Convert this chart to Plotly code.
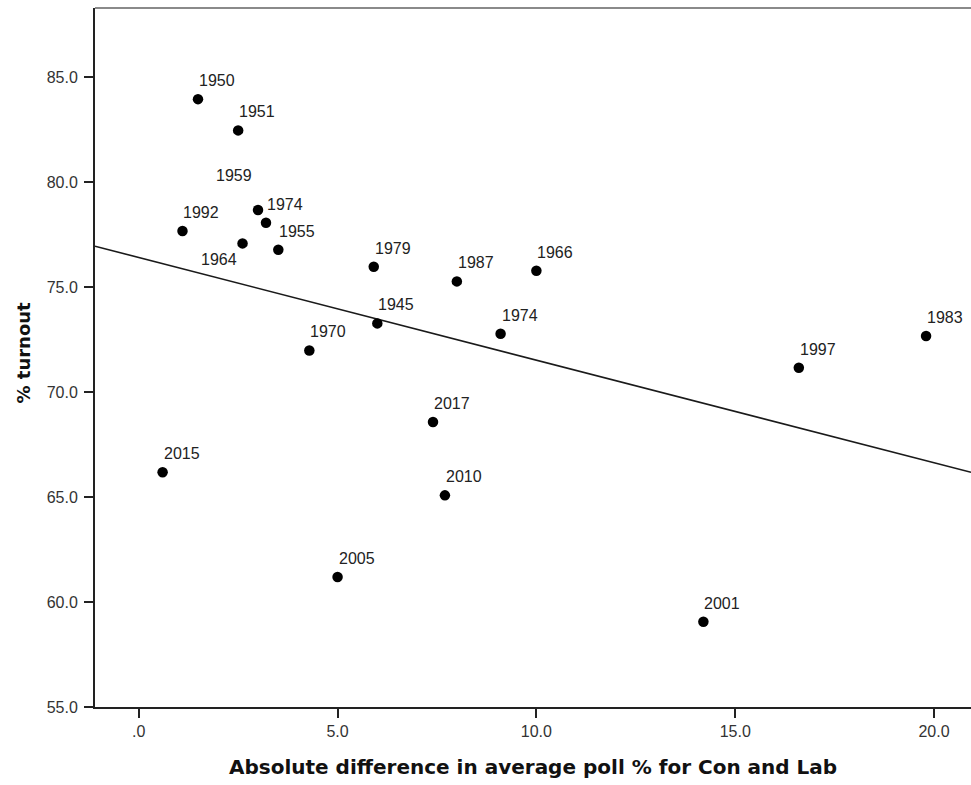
import numpy as np
import plotly.graph_objects as go

# ---- data ----
years = ["1945", "1950", "1951", "1955", "1959", "1964", "1966", "1970", "1974", "1974",
         "1979", "1983", "1987", "1992", "1997", "2001", "2005", "2010", "2015", "2017"]
poll_diff = [6.0, 1.49, 2.50, 3.51, 3.0, 2.61, 10.0, 4.29, 3.20, 9.1,
             5.91, 19.8, 8.0, 1.10, 16.6, 14.2, 5.0, 7.70, 0.60, 7.40]
turnout = [73.27, 83.95, 82.46, 76.78, 78.67, 77.08, 75.78, 71.98, 78.06, 72.78,
           75.97, 72.67, 75.27, 77.67, 71.16, 59.06, 61.19, 65.08, 66.18, 68.57]
x_ticks = [0, 5, 10, 15, 20]
x_tick_text = [".0", "5.0", "10.0", "15.0", "20.0"]
y_ticks = [55, 60, 65, 70, 75, 80, 85]
y_tick_text = ["55.0", "60.0", "65.0", "70.0", "75.0", "80.0", "85.0"]
x_title = "Absolute difference in average poll % for Con and Lab"
y_title = "% turnout"

# ---- layout constants ----
XR = [-1.10, 20.93]
YR = [55, 88.29]
# label offsets (pixels) for labels not placed at the default spot
label_offsets = {4: (-44, 34), 5: (-44, -16)}
default_offset = (-1, 18.5)

slope, intercept = np.polyfit(poll_diff, turnout, 1)
line_x = np.array(XR)
line_y = slope * line_x + intercept

fig = go.Figure()
fig.add_trace(go.Scatter(x=line_x, y=line_y, mode="lines",
                         line=dict(color="#1a1a1a", width=1.6),
                         hoverinfo="skip", showlegend=False, cliponaxis=True))
fig.add_trace(go.Scatter(x=poll_diff, y=turnout, mode="markers",
                         marker=dict(color="black", size=10.5),
                         showlegend=False, cliponaxis=False))

annotations = []
for i, (xv, yv, lab) in enumerate(zip(poll_diff, turnout, years)):
    dx, dy = label_offsets.get(i, default_offset)
    annotations.append(dict(x=xv, y=yv, xref="x", yref="y", text=lab, showarrow=False,
                            xanchor="left", yanchor="middle", xshift=dx, yshift=dy,
                            font=dict(family="Liberation Sans, Arial", size=16, color="#222")))

annotations.append(dict(x=0.5, y=0, xref="paper", yref="paper", text=x_title, showarrow=False,
                        xanchor="center", yanchor="top", yshift=-46,
                        font=dict(family="DejaVu Sans", size=20, color="#111", weight="bold")))
annotations.append(dict(x=0, y=0.5, xref="paper", yref="paper", text=y_title, showarrow=False,
                        textangle=-90, xanchor="center", yanchor="middle", xshift=-72, yshift=5,
                        font=dict(family="DejaVu Sans", size=18, color="#111", weight="bold")))

axis_common = dict(showgrid=False, zeroline=False, showline=True, linecolor="#222",
                   linewidth=2, ticks="outside", ticklen=9, tickwidth=2, tickcolor="#222",
                   tickfont=dict(family="Liberation Sans, Arial", size=16, color="#333"))

fig.update_layout(
    width=971, height=785,
    margin=dict(l=95, r=0, t=8, b=78),
    paper_bgcolor="white", plot_bgcolor="white",
    xaxis=dict(range=XR, tickvals=x_ticks, ticktext=x_tick_text, **axis_common),
    yaxis=dict(range=YR, tickvals=y_ticks, ticktext=y_tick_text,
               ticklabelstandoff=3, **axis_common),
    annotations=annotations,
    shapes=[dict(type="line", xref="paper", yref="paper", x0=0, x1=1, y0=1, y1=1,
                 line=dict(color="#8a8a8a", width=2))],
)

# the page's default body margin would shift the figure by 8px; remove it
fig.write_html("out.html",
               config={"displayModeBar": False},
               post_script="document.body.style.margin='0';"
                           "document.body.style.padding='0';"
                           "document.documentElement.style.overflow='hidden';")
